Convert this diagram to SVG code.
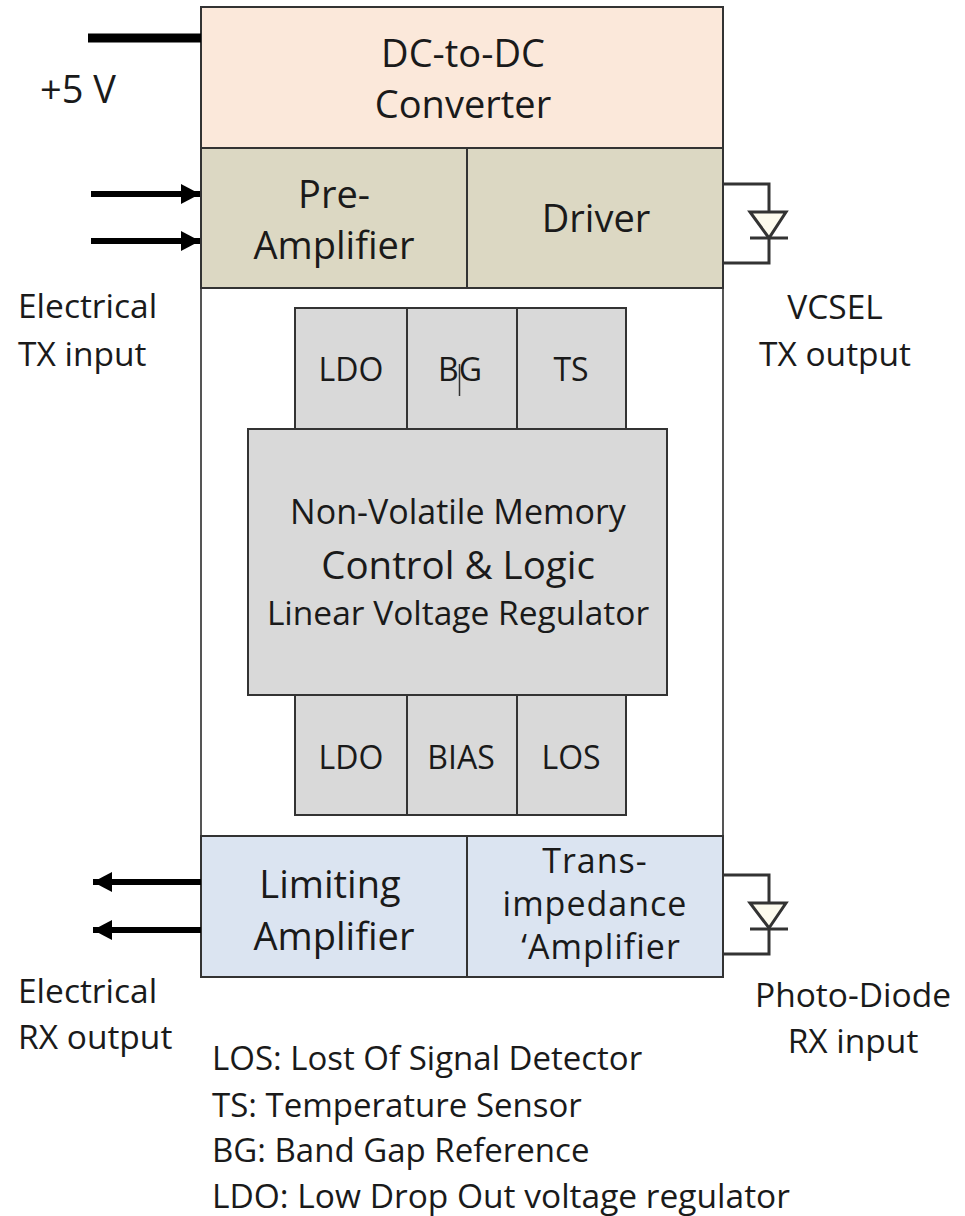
<svg xmlns="http://www.w3.org/2000/svg" width="965" height="1216" viewBox="0 0 965 1216">
<style>
text{font-family:"Open Sans","Lato","Liberation Sans",sans-serif;fill:#1a1a1a;text-anchor:middle;font-size:38px}
.l{text-anchor:start;font-size:33.500px}
.s{font-size:33.500px}
.c{font-size:32px}
.t{font-size:34px;letter-spacing:1px}
.box{stroke:#333;stroke-width:2}
.g{fill:#d9d9d9}
.w{fill:none;stroke:#333;stroke-width:3}
.a{fill:none;stroke:#000;stroke-width:6}
.d{fill:#fdfbee;stroke:#333;stroke-width:3}
</style>
<defs><marker id="ah" markerUnits="userSpaceOnUse" markerWidth="20" markerHeight="22" refX="19" refY="10" orient="auto"><path d="M0 0L19 10L0 20Z" fill="#000"/></marker></defs>
<g id="frame"><rect x="201" y="7" width="522" height="970" fill="#fff" stroke="#555" stroke-width="2"/></g>
<g id="dcdc"><rect class="box" x="201" y="7" width="522" height="141" fill="#fbe8da"/><text x="463" y="67">DC-to-DC</text><text x="463" y="118">Converter</text></g>
<g id="preamp"><rect class="box" x="201" y="148" width="266" height="140" fill="#dcd8c3"/><text x="334" y="208">Pre-</text><text x="334" y="259">Amplifier</text></g>
<g id="driver"><rect class="box" x="467" y="148" width="256" height="140" fill="#dcd8c3"/><text x="596" y="232">Driver</text></g>
<g id="ldo1"><rect class="box g" x="295" y="308" width="112" height="121"/><text class="c" x="351" y="381">LDO</text></g>
<g id="bg"><rect class="box g" x="407" y="308" width="110" height="121"/><text class="c" x="460" y="381">BG</text><path d="M459.500 364V396" stroke="#333" stroke-width="1.500"/></g>
<g id="ts"><rect class="box g" x="517" y="308" width="109" height="121"/><text class="c" x="571" y="381">TS</text></g>
<g id="control"><rect class="box g" x="248" y="429" width="419" height="266"/><text class="s" x="458" y="524" style="font-size:34px">Non-Volatile Memory</text><text x="458" y="579" style="font-size:38.500px">Control &amp; Logic</text><text class="s" x="458" y="625">Linear Voltage Regulator</text></g>
<g id="ldo2"><rect class="box g" x="295" y="695" width="112" height="120"/><text class="c" x="351" y="769">LDO</text></g>
<g id="bias"><rect class="box g" x="407" y="695" width="110" height="120"/><text class="c" x="461" y="769">BIAS</text></g>
<g id="los"><rect class="box g" x="517" y="695" width="109" height="120"/><text class="c" x="571" y="769">LOS</text></g>
<g id="limiting"><rect class="box" x="201" y="836" width="266" height="141" fill="#dbe4f1"/><text x="330" y="898">Limiting</text><text x="334" y="950">Amplifier</text></g>
<g id="tia"><rect class="box" x="467" y="836" width="256" height="141" fill="#dbe4f1"/><text class="t" x="595" y="873">Trans-</text><text class="t" x="595" y="916">impedance</text><text class="t" x="601" y="959">‘Amplifier</text></g>
<g id="connectors">
<path d="M88 38H201" stroke="#000" stroke-width="9" fill="none"/>
<path class="a" d="M91 194H200" marker-end="url(#ah)"/>
<path class="a" d="M91 241H200" marker-end="url(#ah)"/>
<path class="a" d="M201 882H93" marker-end="url(#ah)"/>
<path class="a" d="M201 930H93" marker-end="url(#ah)"/>
<path class="w" d="M724 184H769V212M769 239V263H724"/>
<path class="d" d="M750 212H786L769 238Z"/><path class="w" d="M750 238H788"/>
<path class="w" d="M724 875H769V902M769 929V954H724"/>
<path class="d" d="M750 903H786L769 928Z"/><path class="w" d="M750 929H788"/>
</g>
<g id="labels">
<text x="78" y="103">+5 V</text>
<text class="l" x="18" y="318">Electrical</text><text class="l" x="18" y="366">TX input</text>
<text class="s" x="835" y="319">VCSEL</text><text class="s" x="835" y="366">TX output</text>
<text class="l" x="18" y="1003">Electrical</text><text class="l" x="18" y="1049">RX output</text>
<text class="s" x="853" y="1007">Photo-Diode</text><text class="s" x="853" y="1053">RX input</text>
<text class="l" x="212" y="1070" style="font-size:33px">LOS: Lost Of Signal Detector</text>
<text class="l" x="212" y="1117" style="font-size:33px">TS: Temperature Sensor</text>
<text class="l" x="212" y="1162" style="font-size:33px">BG: Band Gap Reference</text>
<text class="l" x="212" y="1208">LDO: Low Drop Out voltage regulator</text>
</g>
</svg>
